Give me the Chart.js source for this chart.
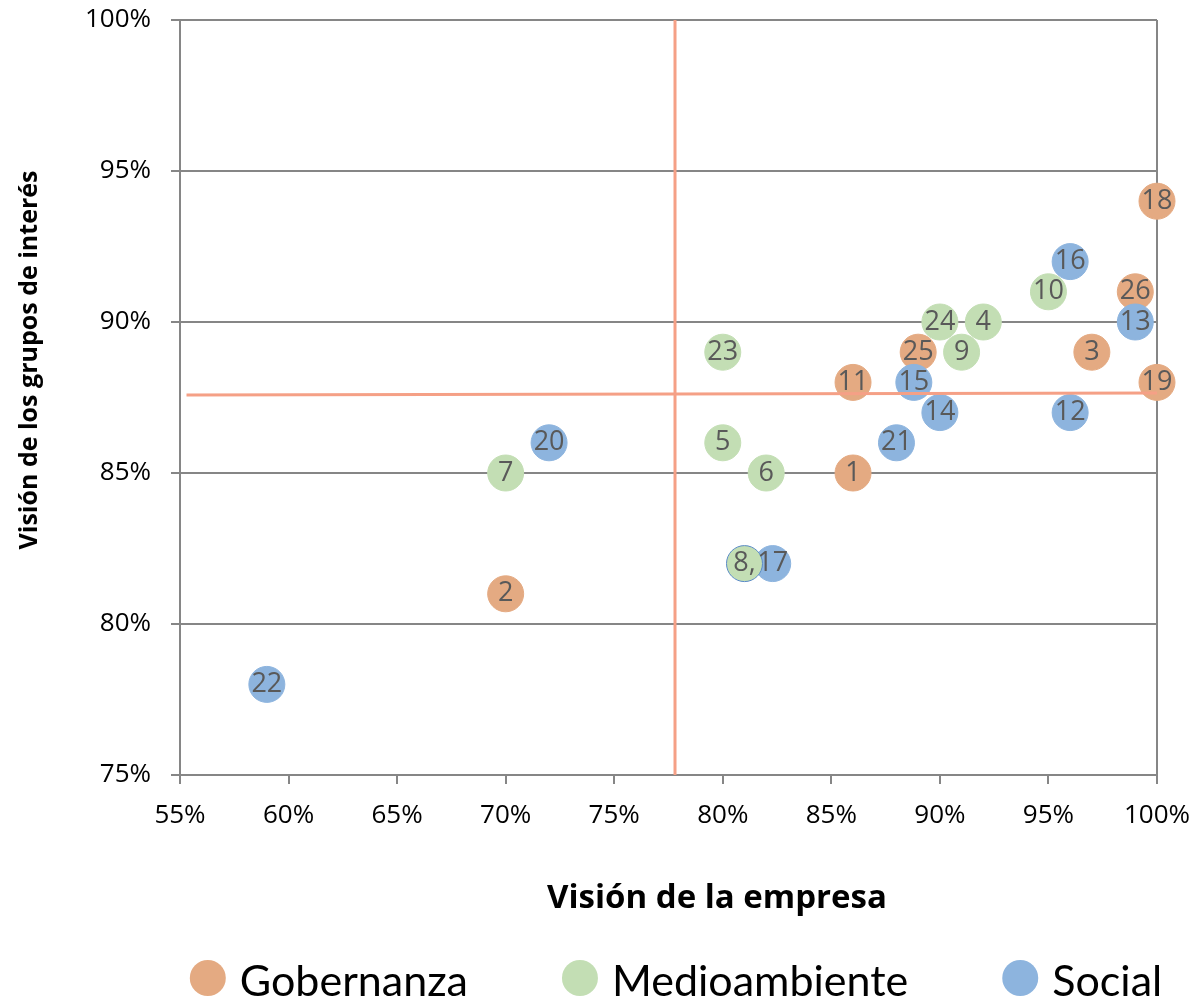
<!DOCTYPE html>
<html>
<head>
<meta charset="utf-8">
<script src="https://cdn.jsdelivr.net/npm/chart.js@4.4.0/dist/chart.umd.min.js"></script>
<style>
  html, body { margin: 0; padding: 0; background: #fff; }
  #wrap { width: 1193px; height: 1001px; }
</style>
</head>
<body>
<div id="wrap"><canvas id="chart"></canvas></div>
<script>
const seriesNames = ["Gobernanza", "Medioambiente", "Social"];
const seriesColors = ["#E4AA82", "#C3DEB4", "#8DB4DE"];
const xTitle = "Visión de la empresa";
const yTitle = "Visión de los grupos de interés";

// Gobernanza
const gobLabels = ["18", "26", "3", "25", "11", "19", "1", "2"];
const gobX = [100, 99, 97, 89, 86, 100, 86, 70];
const gobY = [94, 91, 89, 89, 88, 88, 85, 81];

// Medioambiente
const medLabels = ["10", "24", "4", "9", "23", "5", "7", "6", "8,"];
const medX = [95, 90, 92, 91, 80, 80, 70, 82, 81];
const medY = [91, 90, 90, 89, 89, 86, 85, 85, 82];

// Social
const socLabels = ["16", "13", "15", "14", "12", "20", "21", "17", "22"];
const socX = [96, 99, 88.8, 90, 96, 72, 88, 82.3, 59];
const socY = [92, 90, 88, 87, 87, 86, 86, 82, 78];

// lineas de corte (medias)
const vLineX = [77.8, 77.8];
const vLineY = [75, 100];
const hLineX = [55.3, 100];
const hLineY = [87.58, 87.65];

const xMin = 55, xMax = 100, xStep = 5;
const yMin = 75, yMax = 100, yStep = 5;

const toPoints = (xs, ys) => xs.map((x, i) => ({ x: x, y: ys[i] }));

const gridGray = "#868686";

const pointLabels = {
  id: "pointLabels",
  afterDatasetsDraw(chart) {
    const ctx = chart.ctx;
    ctx.save();
    ctx.font = '27px "Open Sans"';
    ctx.fillStyle = "#595959";
    ctx.textAlign = "center";
    ctx.textBaseline = "middle";
    chart.data.datasets.forEach((ds, i) => {
      if (!ds.pointLabels) return;
      chart.getDatasetMeta(i).data.forEach((pt, j) => {
        ctx.fillText(ds.pointLabels[j], pt.x, pt.y);
      });
    });
    ctx.restore();
  }
};

// titulos de ejes y leyenda, dibujados a mano para colocarlos como en el original
const titlesAndLegend = {
  id: "titlesAndLegend",
  afterDraw(chart) {
    const ctx = chart.ctx;
    ctx.save();
    ctx.fillStyle = "#000";
    ctx.textAlign = "center";
    ctx.textBaseline = "middle";
    ctx.font = 'bold 33px "Open Sans"';
    ctx.fillText(xTitle, 717, 899);
    ctx.save();
    ctx.translate(30, 360);
    ctx.rotate(-Math.PI / 2);
    ctx.font = 'bold 25px "Open Sans"';
    ctx.fillText(yTitle, 0, 0);
    ctx.restore();

    ctx.font = '43px Lato, sans-serif';
    const r = 18, gap = 14, itemGap = 94;
    const widths = seriesNames.map(n => ctx.measureText(n).width);
    const total = widths.reduce((a, w) => a + 2 * r + gap + w, 0) + itemGap * (seriesNames.length - 1);
    let x = 676 - total / 2;
    const cy = 978;
    seriesNames.forEach((name, i) => {
      ctx.beginPath();
      ctx.fillStyle = seriesColors[i];
      ctx.arc(x + r, cy, r, 0, Math.PI * 2);
      ctx.fill();
      ctx.fillStyle = "#000";
      ctx.textAlign = "left";
      ctx.textBaseline = "alphabetic";
      ctx.fillText(name, x + 2 * r + gap, 996);
      x += 2 * r + gap + widths[i] + itemGap;
    });
    ctx.restore();
  }
};

const scatterSet = (label, xs, ys, labels, color, order) => ({
  label: label,
  data: toPoints(xs, ys),
  pointLabels: labels,
  backgroundColor: color,
  borderColor: color,
  pointRadius: 18,
  pointHoverRadius: 18,
  pointBorderWidth: 1,
  order: order,
  clip: false
});

const medSet = scatterSet(seriesNames[1], medX, medY, medLabels, seriesColors[1], 1);
medSet.pointBorderColor = medLabels.map(l => l === "8," ? "#5B8BC7" : seriesColors[1]);

new Chart(document.getElementById("chart"), {
  type: "scatter",
  data: {
    datasets: [
      scatterSet(seriesNames[0], gobX, gobY, gobLabels, seriesColors[0], 3),
      medSet,
      scatterSet(seriesNames[2], socX, socY, socLabels, seriesColors[2], 2),
      {
        data: toPoints(vLineX, vLineY),
        showLine: true, pointRadius: 0, borderColor: "#F5A086", borderWidth: 3, order: 0, clip: false
      },
      {
        data: toPoints(hLineX, hLineY),
        showLine: true, pointRadius: 0, borderColor: "#F5A086", borderWidth: 3, order: 0, clip: false
      }
    ]
  },
  options: {
    responsive: true,
    maintainAspectRatio: false,
    animation: false,
    layout: { padding: { left: 0, right: 36, top: 20, bottom: 0 } },
    plugins: {
      legend: { display: false },
      tooltip: { enabled: false }
    },
    scales: {
      x: {
        type: "linear",
        min: xMin, max: xMax,
        afterFit: s => { s.height = 226; s.paddingLeft = 0; s.paddingRight = 0; },
        ticks: {
          stepSize: xStep,
          padding: 16,
          color: "#000",
          font: { family: "Open Sans", size: 26 },
          callback: v => v + "%"
        },
        grid: {
          color: c => (c.tick && c.tick.value === xMax) ? gridGray : "rgba(0,0,0,0)",
          tickColor: gridGray,
          lineWidth: 2,
          tickLength: 9
        },
        border: { color: gridGray, width: 2 }
      },
      y: {
        min: yMin, max: yMax,
        afterFit: s => { s.width = 180; s.paddingTop = 0; s.paddingBottom = 0; },
        ticks: {
          stepSize: yStep,
          padding: 20,
          color: "#000",
          font: { family: "Open Sans", size: 26 },
          callback: v => v + "%"
        },
        grid: { color: gridGray, lineWidth: 2, tickLength: 9 },
        border: { color: gridGray, width: 2 }
      }
    }
  },
  plugins: [pointLabels, titlesAndLegend]
});
</script>
</body>
</html>
